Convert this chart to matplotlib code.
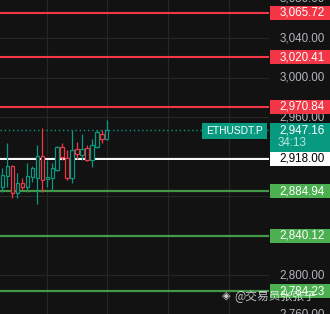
import matplotlib
matplotlib.use("Agg")
import matplotlib.pyplot as plt
import matplotlib.transforms as mtransforms
from matplotlib.patches import Rectangle

# ---- data ----
opens  = [2889.7, 2900.6, 2910.7, 2883.1, 2893.2, 2889.7, 2899.8, 2898.5, 2920.8, 2897.2, 2898.5,
          2906.6, 2929.9, 2918.8, 2898.5, 2927.6, 2921.5, 2928.9, 2916.4, 2929.9, 2943.3, 2938.3]
closes = [2901.6, 2910.7, 2883.1, 2893.2, 2889.7, 2900.6, 2908.7, 2920.8, 2896.5, 2899.8, 2908.7,
          2930.2, 2920.1, 2898.8, 2926.9, 2923.1, 2928.2, 2917.1, 2932.2, 2945.1, 2938.3, 2947.16]
highs  = [2908.9, 2933.9, 2911.7, 2903.6, 2898.5, 2913.7, 2910.7, 2931.9, 2948.8, 2916.7, 2913.7,
          2931.2, 2933.9, 2926.9, 2947.1, 2934.9, 2943.3, 2932.2, 2938.3, 2946.8, 2946.8, 2956.9]
lows   = [2884.7, 2889.7, 2878.6, 2878.3, 2886.4, 2884.7, 2894.8, 2872.2, 2884.7, 2889.7, 2885.4,
          2905.6, 2916.7, 2896.5, 2893.2, 2918.0, 2916.4, 2915.4, 2909.7, 2928.9, 2934.2, 2936.7]

resistance_levels = [3065.72, 3020.41, 2970.84]
support_levels = [2884.94, 2840.12, 2784.23]
white_level = 2918.00
last_price = 2947.16
countdown = "34:13"
symbol = "ETHUSDT.P"
grid_values = [3080, 3040, 3000, 2960, 2920, 2880, 2840, 2800, 2760]
tick_labels_shown = [3080, 3040, 3000, 2960, 2800, 2760]
watermark = "@交易员张张子"

# ---- style ----
BG = "#121212"
GRID = "#262626"
UP = "#089981"
DOWN = "#f23645"
SUP = "#4caf50"
TICK = "#b2b5be"
FONT = "Liberation Sans"
FS = 8.4

W, H = 330, 314
fig = plt.figure(figsize=(W / 100, H / 100), dpi=100)
fig.patch.set_facecolor(BG)
ax = fig.add_axes([0, 0, 269 / W, 1])
ax.set_facecolor(BG)
for s in ax.spines.values():
    s.set_visible(False)
ax.set_xticks([])
ax.set_yticks([])
ax.set_xlim(-0.46, 53.54)
ax.set_ylim(2760.97, 3078.56)

# grid
for v in grid_values:
    ax.axhline(v, color=GRID, lw=0.8, zorder=0)
for gx in [8.88, 21.08, 33.28, 45.48]:
    ax.axvline(gx, color=GRID, lw=0.8, zorder=0)

# candles (hollow bodies)
for i, (o, c, h, l) in enumerate(zip(opens, closes, highs, lows)):
    col = UP if c >= o else DOWN
    ax.vlines(i, l, h, color=col, lw=0.9, zorder=3)
    ax.add_patch(Rectangle((i - 0.32, min(o, c)), 0.64, max(abs(c - o), 0.6),
                           facecolor=BG, edgecolor=col, lw=0.9, zorder=4))

# level lines
for v in resistance_levels:
    ax.axhline(v, color=DOWN, lw=1.5, zorder=2)
for v in support_levels:
    ax.axhline(v, color=SUP, lw=1.6, alpha=0.85, zorder=2)
ax.axhline(white_level, color="white", lw=1.4, zorder=2)
ax.axhline(last_price, color=UP, lw=1.0, ls=(0, (1, 2)), zorder=2)

# price scale
bt = mtransforms.blended_transform_factory(fig.transFigure, ax.transData)
px = 1 / 0.9887  # price units per pixel

for v in tick_labels_shown:
    fig.text(325 / W, v, f"{v:,.2f}", transform=bt, ha="right", va="center",
             color=TICK, fontsize=FS, family=FONT, zorder=1)


def label(price, text, bg, fg, h=14):
    fig.add_artist(Rectangle((270 / W, price - h / 2 * px), 60 / W, h * px,
                             transform=bt, facecolor=bg, edgecolor="none", zorder=5))
    fig.text(325 / W, price, text, transform=bt, ha="right", va="center",
             color=fg, fontsize=FS, family=FONT, zorder=6)


for v in resistance_levels:
    label(v, f"{v:,.2f}", DOWN, "white")
for v in support_levels:
    label(v, f"{v:,.2f}", SUP, "white")
label(white_level, f"{white_level:,.2f}", "white", "black")

# last price box with countdown
fig.add_artist(Rectangle((270 / W, last_price - 22 * px), 60 / W, 29 * px,
                         transform=bt, facecolor=UP, edgecolor="none", zorder=5))
fig.text(325 / W, last_price - 0.5 * px, f"{last_price:,.2f}", transform=bt, ha="right",
         va="center", color="white", fontsize=FS, family=FONT, zorder=6)
fig.text(278 / W, last_price - 13.5 * px, countdown, transform=bt, ha="left",
         va="center", color="#b8e6dc", fontsize=FS, family=FONT, zorder=6)
fig.add_artist(Rectangle((202 / W, last_price - 9 * px), 65 / W, 15.5 * px,
                         transform=bt, facecolor=UP, edgecolor="none", zorder=5))
fig.text(234.5 / W, last_price - 1.2 * px, symbol, transform=bt, ha="center",
         va="center", color="white", fontsize=7.4, family=FONT, zorder=6)

# watermark
fig.text(222 / W, 1 - 296 / H, "◈", ha="left", va="center", color="white", alpha=0.8,
         fontsize=8, family="DejaVu Sans", zorder=7)
fig.text(234 / W, 1 - 296 / H, watermark, ha="left", va="center", color="white",
         alpha=0.75, fontsize=8.5, family=["Noto Sans CJK SC", "DejaVu Sans"], zorder=7)

fig.savefig("out.png", dpi=100, facecolor=BG)
